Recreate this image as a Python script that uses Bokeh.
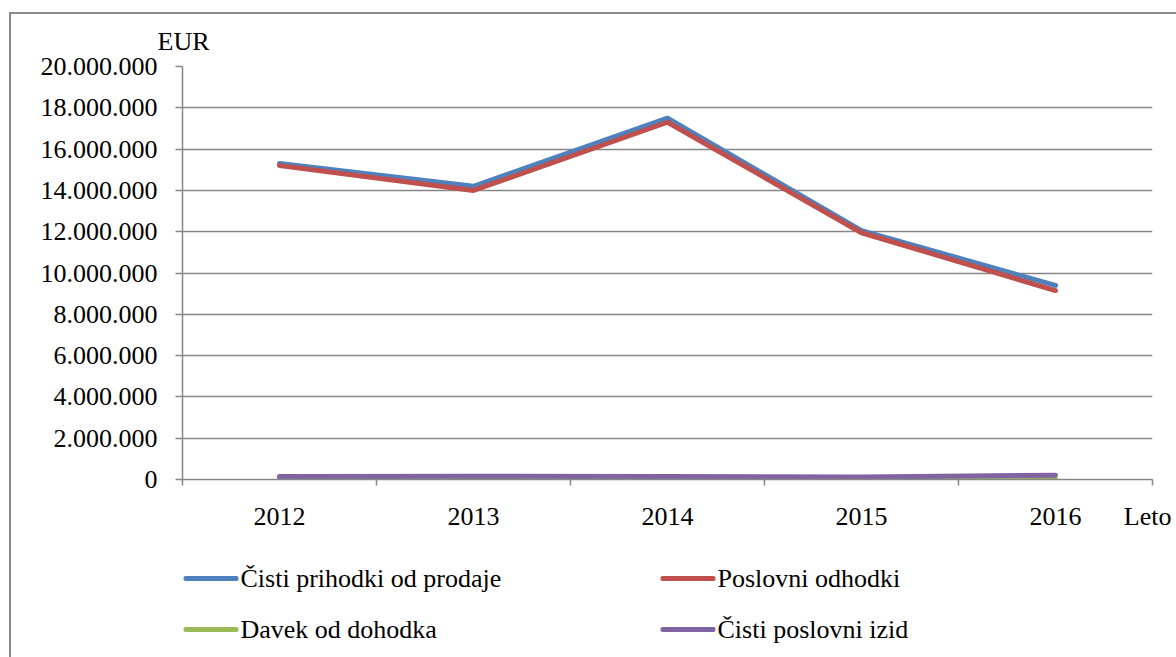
from bokeh.plotting import figure
from bokeh.layouts import column
from bokeh.models import (FixedTicker, Title, Label, BoxAnnotation, Range1d,
                          ColumnDataSource)
from bokeh.embed import file_html
from bokeh.resources import INLINE

# Annual figures in EUR
years = ["2012", "2013", "2014", "2015", "2016"]
cisti_prihodki = [15300000, 14200000, 17500000, 12050000, 9400000]
poslovni_odhodki = [15200000, 14000000, 17300000, 11950000, 9150000]
davek = [30000, 30000, 30000, 25000, 40000]
cisti_izid = [150000, 160000, 150000, 120000, 210000]

y_ticks = [0, 2000000, 4000000, 6000000, 8000000, 10000000,
           12000000, 14000000, 16000000, 18000000, 20000000]
y_tick_labels = ["0", "2.000.000", "4.000.000", "6.000.000", "8.000.000",
                 "10.000.000", "12.000.000", "14.000.000", "16.000.000",
                 "18.000.000", "20.000.000"]

series = [
    ("Čisti prihodki od prodaje", cisti_prihodki, "#4F81BD"),
    ("Poslovni odhodki", poslovni_odhodki, "#C0504D"),
    ("Davek od dohodka", davek, "#9BBB59"),
    ("Čisti poslovni izid", cisti_izid, "#8064A2"),
]

FONT = "Liberation Serif"
GRAY = "#868686"

# category centres sit in the middle of each unit-wide band
n = len(years)
xs = [i + 0.5 for i in range(n)]
x_title_pos = n - 0.025

# ---- chart ----
p = figure(width=1165, height=520, output_backend="svg", toolbar_location=None,
           x_range=Range1d(0, n), y_range=Range1d(0, 20000000),
           min_border_left=171, min_border_right=24, min_border_top=52,
           min_border_bottom=55)
p.outline_line_color = None
p.background_fill_color = "white"
p.border_fill_color = "white"

# x axis: labels under category centres, tick marks on band boundaries
p.xaxis.ticker = FixedTicker(ticks=xs + [x_title_pos], minor_ticks=list(range(n + 1)))
overrides = {x: y for x, y in zip(xs, years)}
overrides[x_title_pos] = "Leto"
p.xaxis.major_label_overrides = overrides
p.xaxis.major_tick_line_color = None
p.xaxis.major_tick_out = 0
p.xaxis.major_tick_in = 0
p.xaxis.minor_tick_line_color = GRAY
p.xaxis.minor_tick_line_width = 1.5
p.xaxis.minor_tick_out = 6
p.xaxis.minor_tick_in = 0
p.xaxis.axis_line_color = GRAY
p.xaxis.axis_line_width = 1.5
p.xaxis.major_label_standoff = 16

p.yaxis.ticker = FixedTicker(ticks=y_ticks)
p.yaxis.major_label_overrides = {t: s for t, s in zip(y_ticks, y_tick_labels)}
p.yaxis.minor_tick_line_color = None
p.yaxis.major_tick_line_color = GRAY
p.yaxis.major_tick_line_width = 1.5
p.yaxis.major_tick_out = 7
p.yaxis.major_tick_in = 0
p.yaxis.axis_line_color = GRAY
p.yaxis.axis_line_width = 1.5
p.yaxis.major_label_standoff = 18

for ax in (p.xaxis, p.yaxis):
    ax.major_label_text_font = FONT
    ax.major_label_text_font_size = "26px"
    ax.major_label_text_color = "black"

p.xgrid.grid_line_color = None
p.ygrid.grid_line_color = GRAY
p.ygrid.grid_line_width = 1.5
p.ygrid.ticker = FixedTicker(ticks=y_ticks)

for name, vals, color in series:
    src = ColumnDataSource(dict(x=xs, y=vals))
    p.line("x", "y", source=src, line_color=color,
           line_width=5, line_cap="round", line_join="round")

# unit caption above the value axis
p.add_layout(Title(text="EUR", align="left", offset=-25, standoff=21,
                   text_font=FONT, text_font_size="26px",
                   text_font_style="normal", text_color="black"), "above")

# ---- legend strip below the chart (two columns, two rows) ----
q = figure(width=1165, height=130, output_backend="svg", toolbar_location=None,
           x_range=Range1d(0, 1), y_range=Range1d(0, 1),
           min_border=0, x_axis_type=None, y_axis_type=None)
q.outline_line_color = None
q.xgrid.visible = False
q.ygrid.visible = False
q.background_fill_color = "white"
q.border_fill_color = "white"

col_x = [1, 478]      # key start of each legend column, px from the strip's left
row_y = [86, 35]      # centre line of each legend row, px from the strip's bottom
key_len, key_thick = 55, 5

for i, (name, _, color) in enumerate(series):
    cx = col_x[i % 2]
    cy = row_y[i // 2]
    q.add_layout(BoxAnnotation(left=cx, right=cx + key_len,
                               bottom=cy - key_thick / 2, top=cy + key_thick / 2,
                               left_units="screen", right_units="screen",
                               top_units="screen", bottom_units="screen",
                               fill_color=color, fill_alpha=1,
                               line_color=None, border_radius=2))
    q.add_layout(Label(x=cx + key_len + 2, y=cy, x_units="screen", y_units="screen",
                       text=name, text_font=FONT, text_font_size="26px",
                       text_color="black", text_baseline="middle",
                       text_align="left"))

layout = column(p, q, spacing=0)
layout.margin = (12, 0, 0, 9)
layout.styles = {"border-top": "2px solid #8a8a8a", "border-left": "2px solid #8a8a8a"}

open("out.html", "w").write(file_html(layout, INLINE))
